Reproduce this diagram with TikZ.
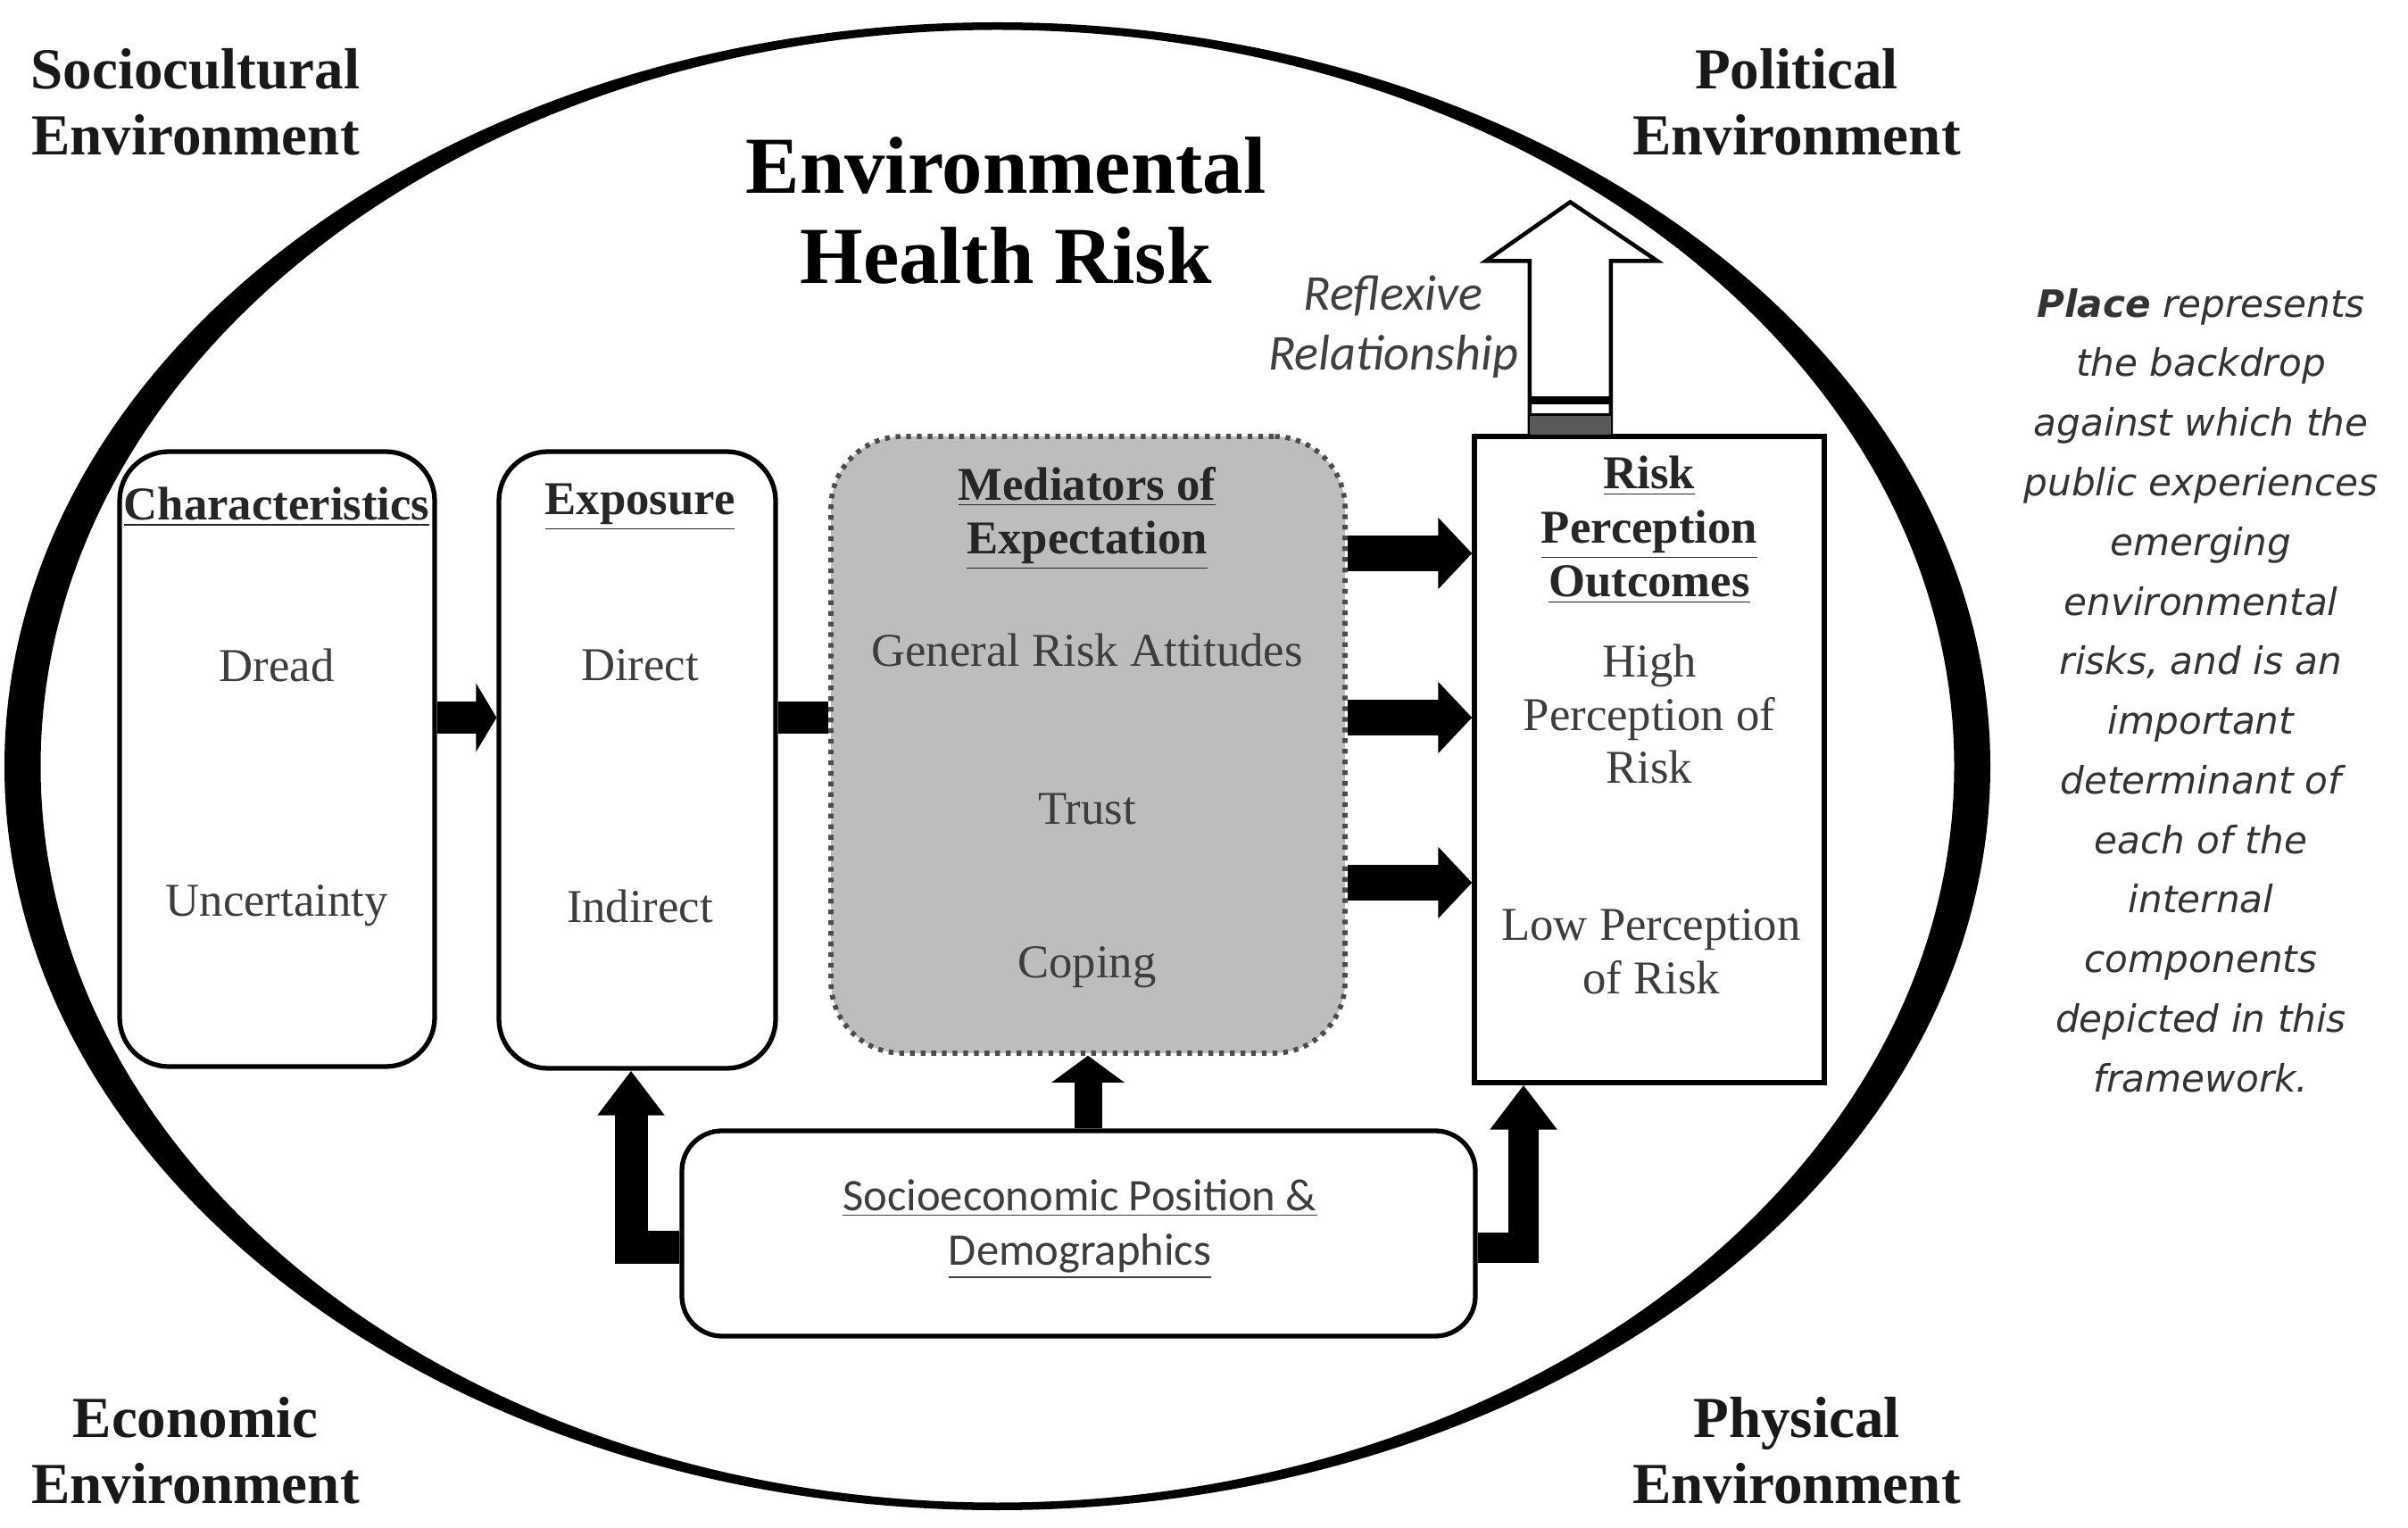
\documentclass[tikz,border=0pt]{standalone}
\usepackage{fontspec}
\setmainfont{Liberation Serif}
\newfontfamily\calibfont{Carlito}
\newfontfamily\placefont{DejaVu Sans}
\usepackage{tikz}
\usetikzlibrary{arrows.meta}
\usetikzlibrary{calc}

\definecolor{textgray}{gray}{0.24}
\definecolor{medgray}{gray}{0.74}

\tikzset{
  framebox/.style={draw,line width=1.5pt,rounded corners=5.5mm,inner sep=0pt,fill=white},
  boxtext/.style={text=textgray,font=\fontsize{15}{17}\selectfont,align=center},
  headtext/.style={text=black!85,font=\bfseries\fontsize{15}{17.2}\selectfont,align=center},
  cornertext/.style={text=black!90,font=\bfseries\fontsize{18.5}{21}\selectfont,align=center},
  blockarrow/.style={line width=4mm,-{Triangle[length=3.8mm,width=7.8mm]}},
  upelbow/.style={line width=3.7mm,line join=miter,-{Triangle[length=5mm,width=7.2mm]}}
}

\begin{document}
\begin{tikzpicture}
\useasboundingbox (0,0) rectangle (26.98,17.11);

% place: the ellipse, thick at the sides
\coordinate (c) at (11.175,8.525);
\fill[black,even odd rule] (c) ellipse [x radius=11.125cm, y radius=8.335cm]
                           (c) ellipse [x radius=10.72cm, y radius=8.25cm];

% the boxes
\node[framebox,minimum width=3.53cm,minimum height=6.89cm] (char) at (3.105,8.605) {};
\node[framebox,minimum width=3.10cm,minimum height=6.91cm] (expo) at (7.14,8.595) {};
\node[framebox,draw=black!70,fill=medgray,dash pattern=on 1.5pt off 1.9pt,line width=1.6pt,
      rounded corners=8mm,minimum width=5.76cm,minimum height=6.91cm] (med) at (12.19,8.765) {};
\node[draw,line width=1.5pt,fill=white,inner sep=0pt,minimum width=3.92cm,minimum height=7.24cm] (risk) at (18.48,8.60) {};
\node[framebox,rounded corners=4.5mm,minimum width=8.89cm,minimum height=2.30cm] (socio) at (12.085,3.29) {};

% rows and columns of the arrows
\coordinate (rowa) at (0,9.07);
\coordinate (rowb) at (0,10.91);
\coordinate (rowc) at (0,7.22);
\coordinate (rowd) at (0,3.13);
\coordinate (cola) at (7.07,0);
\coordinate (colb) at (17.07,0);

\draw[line width=3.6mm,-{Triangle[length=2.3mm,width=7.6mm]}] (char.east |- rowa) -- (expo.west |- rowa);
\draw[line width=3.6mm] (expo.east |- rowa) -- (med.west |- rowa);
\draw[blockarrow] (med.east |- rowb) -- (risk.west |- rowb);
\draw[blockarrow] (med.east |- rowa) -- (risk.west |- rowa);
\draw[blockarrow] (med.east |- rowc) -- (risk.west |- rowc);
\draw[upelbow] (socio.west |- rowd) -| (cola |- expo.south);
\draw[line width=3.1mm,-{Triangle[length=3mm,width=8mm]}] (socio.north -| med.south) -- (med.south);
\draw[upelbow,line width=3.4mm] (socio.east |- rowd) -| (colb |- risk.south);

% reflexive relationship arrow
\coordinate (rb) at ($(risk.north west)+(1.1,0)$);
\draw[line width=1.3pt,fill=white,line join=miter] ($(rb)+(-0.455,0)$) -- ++(0,1.94) -- ++(-0.49,0)
  -- ($(rb)+(0,2.6)$) -- ($(rb)+(0.975,1.94)$) -- ++(-0.52,0) -- ++(0,-1.94);
\fill[black!65] ($(rb)+(-0.455,0)$) rectangle ($(rb)+(0.455,0.2)$);
\draw[line width=0.8pt] ($(rb)+(-0.455,0.22)$) -- ++(0.91,0);
\draw[line width=2.6pt] ($(rb)+(-0.455,0.38)$) -- ++(0.91,0);
\node[text=black!75,font=\calibfont\itshape\fontsize{16}{19}\selectfont,align=center] (refl) at (15.61,13.45) {Reflexive\\Relationship};

% texts in the boxes
\node[headtext] (charhead) at (3.10,11.43) {\underline{Characteristics}};
\node[boxtext] (dread) at (3.10,9.66) {Dread};
\node[boxtext] (uncert) at (3.10,6.96) {Uncertainty};
\node[headtext] (expohead) at (7.17,11.43) {\underline{Exposure}};
\node[boxtext] (direct) at (7.17,9.66) {Direct};
\node[boxtext] (indirect) at (7.17,6.96) {Indirect};
\node[headtext] (medhead) at (12.18,11.30) {\underline{Mediators of}\\\underline{Expectation}};
\node[boxtext] (attitude) at (12.18,9.83) {General Risk Attitudes};
\node[boxtext] (trust) at (12.18,8.04) {Trust};
\node[boxtext] (coping) at (12.18,6.27) {Coping};
\node[headtext] (riskhead) at (18.48,11.17) {\underline{Risk}\\\underline{Perception}\\\underline{Outcomes}};
\node[boxtext] (high) at (18.48,9.11) {High\\Perception of\\Risk};
\node[boxtext] (low) at (18.50,6.45) {Low Perception\\of Risk};
\node[text=textgray,font=\calibfont\fontsize{14.4}{17.4}\selectfont,align=center] (sociotext) at (12.10,3.34)
  {\underline{Socioeconomic Position \&}\\\underline{Demographics}};

% title and the four environments
\node[font=\bfseries\fontsize{25.8}{28.5}\selectfont,align=center] (title) at (11.27,14.75) {Environmental\\Health Risk};
\node[cornertext] (socult) at (2.19,15.97) {Sociocultural\\Environment};
\node[cornertext] (polit) at (20.13,15.97) {Political\\Environment};
\node[cornertext] (econ) at (2.19,0.86) {Economic\\Environment};
\node[cornertext] (phys) at (20.13,0.86) {Physical\\Environment};

% note on place
\node[text=black!80,font=\placefont\itshape\fontsize{12}{19}\selectfont,align=center] (placenote) at (24.66,9.375)
  {\textbf{Place} represents\\the backdrop\\against which the\\public experiences\\emerging\\environmental\\risks, and is an\\important\\determinant of\\each of the\\internal\\components\\depicted in this\\framework.};
\end{tikzpicture}
\end{document}
